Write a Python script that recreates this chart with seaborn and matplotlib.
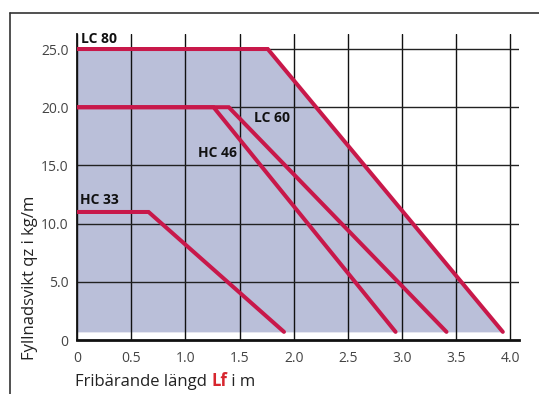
import numpy as np
import pandas as pd
import seaborn as sns
import matplotlib.pyplot as plt
from matplotlib.lines import Line2D

# Kurvor (x = fribärande längd i m, y = fyllnadsvikt i kg/m)
lc80_x = [0.0, 1.76, 3.93]
lc80_y = [25.0, 25.0, 0.7]
lc60_x = [0.0, 1.40, 3.41]
lc60_y = [20.0, 20.0, 0.7]
hc46_x = [0.0, 1.26, 2.94]
hc46_y = [20.0, 20.0, 0.7]
hc33_x = [0.0, 0.66, 1.91]
hc33_y = [11.0, 11.0, 0.7]

labels = ['LC 80', 'LC 60', 'HC 46', 'HC 33']
label_pos = [(0.04, 25.9), (1.63, 19.1), (1.12, 16.1), (0.03, 12.0)]

x_ticks = [0, 0.5, 1.0, 1.5, 2.0, 2.5, 3.0, 3.5, 4.0]
x_ticklabels = ['0', '0.5', '1.0', '1.5', '2.0', '2.5', '3.0', '3.5', '4.0']
y_ticks = [0, 5, 10, 15, 20, 25]
y_ticklabels = ['0', '5.0', '10.0', '15.0', '20.0', '25.0']

base = 0.7
line_col = '#c8184a'
fill_col = '#babfd9'

sns.set_theme(style='white')
plt.rcParams['font.family'] = ['Open Sans', 'DejaVu Sans']

fig = plt.figure(figsize=(5.39, 3.94), dpi=100)
ax = fig.add_axes([0.143, 0.137, 0.82, 0.777])

ax.fill_between(lc80_x, base, lc80_y, color=fill_col, linewidth=0, zorder=1)

for gx in x_ticks:
    ax.axvline(gx, color='#111111', linewidth=1.0, zorder=2)
for gy in y_ticks[1:]:
    ax.axhline(gy, color='#222222', linewidth=1.0, zorder=2)

for xs, ys in [(lc80_x, lc80_y), (lc60_x, lc60_y), (hc46_x, hc46_y), (hc33_x, hc33_y)]:
    sns.lineplot(x=xs, y=ys, sort=False, color=line_col, linewidth=2.9,
                 ax=ax, zorder=3, solid_joinstyle='miter')

for lab, (lx, ly) in zip(labels, label_pos):
    ax.text(lx, ly, lab, fontsize=10, fontweight='bold', color='#111111',
            ha='left', va='center', zorder=4)

ax.set_xlim(0, 4.08)
ax.set_ylim(0, 26.3)
ax.set_xticks(x_ticks)
ax.set_xticklabels(x_ticklabels)
ax.set_yticks(y_ticks)
ax.set_yticklabels(y_ticklabels)
ax.tick_params(axis='x', direction='out', length=6, width=1, colors='#111111',
               labelcolor='#444444', labelsize=10, pad=2)
ax.tick_params(axis='y', direction='out', length=4, width=1, colors='#111111',
               labelcolor='#444444', labelsize=10, pad=2)

for s in ['top', 'right']:
    ax.spines[s].set_visible(False)
ax.spines['left'].set_color('#111111')
ax.spines['left'].set_linewidth(1.3)
ax.spines['bottom'].set_color('#111111')
ax.spines['bottom'].set_linewidth(2.0)

ax.set_xlabel('')
ax.set_ylabel('')
fig.text(0.056, 0.294, 'Fyllnadsvikt qz i kg/m', rotation=90, fontsize=12,
         color='#222222', ha='center', va='center')

t1 = fig.text(0.139, 0.02, 'Fribärande längd ', fontsize=12, color='#222222',
              ha='left', va='baseline')
t2 = ax.annotate('Lf', xy=(1, 0), xycoords=t1, fontsize=12, fontweight='bold',
                 color='#d7262e', ha='left', va='bottom')
ax.annotate(' i m', xy=(1, 0), xycoords=t2, fontsize=12, color='#222222',
            ha='left', va='bottom')

# ram runt figuren
fig.add_artist(Line2D([10 / 539, 10 / 539], [0, 1 - 13 / 394],
                      transform=fig.transFigure, color='#333333', linewidth=1.2))
fig.add_artist(Line2D([10 / 539, 1], [1 - 13 / 394, 1 - 13 / 394],
                      transform=fig.transFigure, color='#333333', linewidth=1.2))

fig.savefig('out.png', dpi=100)
